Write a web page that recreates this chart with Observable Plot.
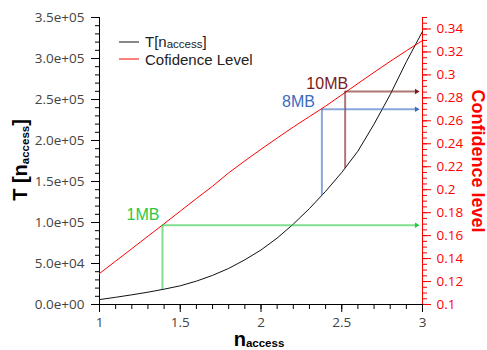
<!DOCTYPE html>
<html><head><meta charset="utf-8">
<script src="https://cdn.jsdelivr.net/npm/d3@7"></script>
<script src="https://cdn.jsdelivr.net/npm/@observablehq/plot@0.6"></script>
<style>
html,body{margin:0;padding:0;background:#fff;}
#chart svg{display:block;}
</style>
</head><body><div id="chart"></div>
<script>
// ---- data ----
const nValues = [1.0,1.1,1.2,1.3,1.4,1.5,1.6,1.7,1.8,1.9,2.0,2.1,2.2,2.3,2.4,2.5,2.6,2.7,2.8,2.9,3.0];
const tValues = [6000,8800,11800,15000,18700,22800,28500,35500,44000,54500,66500,81000,98000,117000,138000,161000,187000,220000,256000,296000,333000];
const confValues = [0.127,0.1378,0.1486,0.1595,0.1703,0.1813,0.1923,0.2030,0.2147,0.2251,0.2352,0.2450,0.2546,0.2637,0.2728,0.2826,0.2925,0.3022,0.3118,0.3210,0.3300];

const leftTicks = [0,50000,100000,150000,200000,250000,300000,350000];
const rightTicks = [0.1,0.12,0.14,0.16,0.18,0.2,0.22,0.24,0.26,0.28,0.3,0.32,0.34];
const bottomTicks = [1,1.5,2,2.5,3];

const annLabels = ["1MB","8MB","10MB"];
const annN = [1.39, 2.377, 2.521];
const annT = [18300, 133000, 165700];
const annConf = [0.169, 0.270, 0.2855];
const annColors = ["#2cc845","#3a6cc0","#7a1a1a"];

const seriesNames = ["T[n_access]","Cofidence Level"];

// ---- scales helpers ----
const tMax = 350000, cMin = 0.1, cMax = 0.35;
const cToT = c => (c - cMin) / (cMax - cMin) * tMax;
const tToC = t => cMin + t / tMax * (cMax - cMin);
const fmtExp = v => { const [m, e] = v.toExponential(1).split("e"); return m + "e" + e[0] + e.slice(1).padStart(2, "0"); };
const fmtConf = v => String(+v.toFixed(3));

const tRows = nValues.map((n, i) => ({n, T: tValues[i]}));
const cRows = nValues.map((n, i) => ({n, cT: cToT(confValues[i])}));
const ann = annLabels.map((label, i) => ({label, n: annN[i], T: annT[i], cT: cToT(annConf[i]), color: annColors[i]}));

const xMinor = d3.range(1, 3.0001, 0.1);
const yMinor = d3.range(0, tMax + 1, 10000);
const cMinor = d3.range(0.1, 0.3501, 0.005).map(cToT);

const labelOpts = {x: "n", y: "cT", text: "label", fill: "color", fontSize: 16, fontFamily: "'Liberation Sans', Arial, sans-serif"};

const chart = Plot.plot({
  width: 487, height: 350,
  marginLeft: 99, marginRight: 65, marginTop: 17, marginBottom: 46,
  x: {domain: [1, 3]},
  y: {domain: [0, tMax]},
  color: {type: "identity"},
  style: {fontFamily: "'Open Sans', sans-serif", fontSize: "13.5px", background: "white"},
  marks: [
    // bottom axis
    Plot.axisX(xMinor, {tickSize: 5, tickFormat: () => "", label: null, stroke: "black"}),
    Plot.axisX(bottomTicks, {tickSize: 8, tickPadding: 5, tickFormat: d => String(d), fill: "#444", stroke: "black", label: null}),
    // left axis
    Plot.axisY(yMinor, {anchor: "left", tickSize: 4, tickFormat: () => "", label: null, stroke: "black"}),
    Plot.axisY(leftTicks, {anchor: "left", tickSize: 8, tickPadding: 7, tickFormat: fmtExp, fill: "#444", stroke: "black", label: null}),
    // right axis
    Plot.axisY(cMinor, {anchor: "right", tickSize: 4, tickFormat: () => "", label: null, stroke: "red"}),
    Plot.axisY(rightTicks.map(cToT), {anchor: "right", tickSize: 8, tickPadding: 6, tickFormat: d => fmtConf(tToC(d)), fill: "red", stroke: "red", label: null}),
    Plot.ruleX([1], {stroke: "black"}),
    Plot.ruleY([0], {stroke: "black"}),
    Plot.ruleX([3], {stroke: "red"}),
    // series
    Plot.line(tRows, {x: "n", y: "T", stroke: "#111", strokeWidth: 1}),
    Plot.line(cRows, {x: "n", y: "cT", stroke: "red", strokeWidth: 1}),
    // annotations
    Plot.ruleX(ann, {x: "n", y1: "T", y2: "cT", stroke: "color", strokeWidth: 2, strokeOpacity: 0.6}),
    Plot.ruleY(ann, {x1: "n", x2: () => 3, y: "cT", stroke: "color", strokeWidth: 2, strokeOpacity: 0.6, insetRight: 7}),
    Plot.dot(ann, {x: () => 3, y: "cT", symbol: "triangle2", rotate: 90, r: 2.6, fill: "color", stroke: null, dx: -6}),
    Plot.text(ann.slice(0, 1), {...labelOpts, textAnchor: "end", dx: -3, dy: -10}),
    Plot.text(ann.slice(1, 2), {...labelOpts, textAnchor: "end", dx: -7, dy: -7}),
    Plot.text(ann.slice(2, 3), {...labelOpts, textAnchor: "end", dx: 3, dy: -8})
  ]
});
document.getElementById("chart").appendChild(chart);

// ---- titles and legend ----
const svg = d3.select(chart);
const sans = "'Liberation Sans', Arial, sans-serif";

function subText(g, main, sub, tail, subSize, shift) {
  g.append("tspan").text(main);
  g.append("tspan").attr("font-size", subSize).attr("dy", shift).text(sub);
  if (tail) g.append("tspan").attr("dy", -shift).text(tail);
}

const lt = svg.append("text").attr("transform", "translate(27,160) rotate(-90)")
  .attr("text-anchor", "middle").attr("font-family", sans).attr("font-weight", "bold")
  .attr("font-size", 20).attr("fill", "black");
subText(lt, "T [n", "access", "]", 11.5, 2);

const bt = svg.append("text").attr("transform", "translate(259,346)")
  .attr("text-anchor", "middle").attr("font-family", sans).attr("font-weight", "bold")
  .attr("font-size", 20).attr("fill", "black");
subText(bt, "n", "access", null, 11.5, 1);

svg.append("text").attr("transform", "translate(472,161) rotate(90)")
  .attr("text-anchor", "middle").attr("font-family", sans).attr("font-weight", "bold")
  .attr("font-size", 18).attr("fill", "red").text("Confidence level");

const lg = svg.append("g").attr("font-family", sans).attr("font-size", 15).attr("fill", "#222").attr("text-anchor", "start");
lg.append("line").attr("x1", 119).attr("x2", 139).attr("y1", 42).attr("y2", 42).attr("stroke", "#111");
lg.append("line").attr("x1", 119).attr("x2", 139).attr("y1", 59).attr("y2", 59).attr("stroke", "red");
const l1 = lg.append("text").attr("x", 145).attr("y", 46.5);
const [m1, s1] = seriesNames[0].replace("]", "").split("_");
subText(l1, m1, s1, "]", 11.5, 1.5);
lg.append("text").attr("x", 145).attr("y", 64.5).text(seriesNames[1]);
</script>
</body></html>
